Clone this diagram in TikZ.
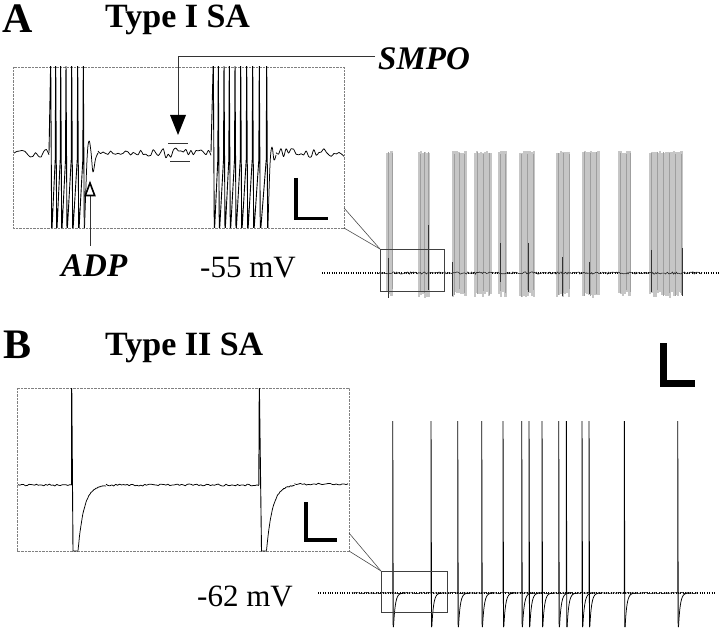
\documentclass[tikz,border=0pt]{standalone}
\usepackage{fontspec}
\setmainfont{Liberation Serif}
\tikzset{
  tracestyle/.style={black, line width=0.75pt, line join=round},
  spk/.style={black, line width=0.9pt, line join=miter},
  insetbox/.style={gray, line width=0.6pt, dash pattern=on 0.7pt off 0.7pt},
  zoombox/.style={black!75, line width=0.8pt},
  zoomline/.style={black!70, line width=0.6pt},
  restline/.style={black, line width=1.1pt, dash pattern=on 1pt off 1.4pt},
  burstline/.style={gray!45, line width=2.2pt},
  burstdark/.style={gray!75, line width=0.7pt},
  darkspk/.style={black!80, line width=0.8pt},
  txt/.style={inner sep=0pt, anchor=base west},
  panel/.style={txt, font=\fontsize{42}{42}\selectfont\bfseries},
  title/.style={txt, font=\fontsize{34}{34}\selectfont\bfseries},
  bilabel/.style={txt, font=\fontsize{33}{33}\selectfont\bfseries\itshape},
  mvlabel/.style={txt, font=\fontsize{31}{31}\selectfont},
  scalebar/.style={black, line cap=butt, line join=miter},
  pointer/.style={black!80, line width=0.8pt},
}
\begin{document}
\begin{tikzpicture}[x=1pt,y=-1pt]
\useasboundingbox (0,0) rectangle (720,628);
\pgfmathsetseed{11}

% ---------------- Panel A ----------------
\node[panel] (lblA) at (2,33) {A};
\node[title] (titleA) at (105,28) {Type I SA};
\node[bilabel] (smpo) at (378,70) {SMPO};
\node[bilabel] (adp) at (61,277) {ADP};
\node[mvlabel] (mvA) at (200,278) {-55 mV};

% inset A
\draw[insetbox] (13,67) rectangle (344,228);
\begin{scope}
\clip (13,67) rectangle (344,228);
\draw[tracestyle] plot[domain=14:49, samples=14, smooth] (\x,{153+5*rand});
\draw[spk] (49,153) -- (50.7,60) -- (51.7,235) -- (55.2,160) -- (55.7,60) -- (56.7,235)
  -- (60.2,160) -- (60.7,60) -- (61.7,235) -- (65.5,160) -- (66,60) -- (67,235)
  -- (71.2,160) -- (71.7,60) -- (72.7,235) -- (77.2,160) -- (77.7,60) -- (78.7,235)
  -- (82.8,160) -- (83.3,60) -- (84.3,235);
\draw[tracestyle] plot[smooth, tension=0.6] coordinates {(84.3,235) (87,160) (89,141) (91,152) (93,172) (95.5,159) (98,153)};
\draw[tracestyle] plot[domain=98:211, samples=46, smooth] (\x,{153+(2.2+3.5*exp(-((\x-168)/30)^2))*rand});
\draw[spk] (211,152) -- (213.3,60) -- (214.3,235) -- (217.8,160) -- (218.3,60) -- (219.3,235)
  -- (223.5,160) -- (224,60) -- (225,235) -- (228.8,160) -- (229.3,60) -- (230.3,235)
  -- (234.5,160) -- (235,60) -- (236,235) -- (240.2,160) -- (240.7,60) -- (241.7,235)
  -- (246.2,160) -- (246.7,60) -- (247.7,235) -- (252.2,160) -- (252.7,60) -- (253.7,235)
  -- (258.8,160) -- (259.3,60) -- (260.3,235) -- (266.2,160) -- (266.7,60) -- (267.7,235);
\draw[tracestyle] plot[smooth, tension=0.6] coordinates {(267.7,235) (270,165) (272,147) (274,160) (276,155)};
\draw[tracestyle] plot[domain=276:344, samples=28, smooth] (\x,{153+4.5*rand});
\end{scope}
% SMPO markers
\draw[black!80, line width=0.7pt] (168,143) -- (188,143);
\draw[black!80, line width=0.7pt] (170,161) -- (190,161);
\coordinate (smpoStart) at (375,56);
\coordinate (smpoTip) at (178,118);
\draw[pointer] (smpoStart) -| (smpoTip);
\fill[black] (170,115) -- (186,115) -- (178,135) -- cycle;
% ADP marker
\coordinate (adpTip) at (90,196);
\coordinate (adpEnd) at (90,246);
\draw[pointer] (adpTip) -- (adpEnd);
\draw[black, line width=1.6pt, fill=white, line join=miter] (90,183) -- (85.3,195.5) -- (94.7,195.5) -- cycle;
% scale bar inset A
\draw[scalebar, line width=3.3pt] (296,178) -- (296,218.3) -- (328,218.3);

% main trace A
\draw[restline] (322,273) -- (720,273);
\foreach \s in {387,389,391.5, 419,421,423,425,427,429, 453,455,457,459,461,463,465.5,
  475,477,479,481,483,485,487,489,490.5, 499,501,503,505.5, 520,522,524,526,528,530,532,534,
  557,559,561,563,565,567,569, 583,585,587,589,591,593,595,597,598.5, 619,621,623,625,627,629.5,
  650,652,654,656,658,660,662,664,666,668,670,672,674,676,678,680,681.5}
  {\draw[burstline] (\s,{152+1.2*rand}) -- (\s,{295+3*rand});}
\foreach \s in {388,392,420,424,428,454,459,464,477,483,489,500,505,521,527,533,558,563,569,584,590,596,620,626,630,651,657,663,669,675,681}
  {\draw[burstdark] (\s,{153+1.5*rand}) -- (\s,{293+4*rand});}
\draw[black!85, line width=0.6pt] plot[domain=378:702, samples=330] (\x,{273+1.1*rand});
\foreach \s/\t/\b in {388/258/298, 428/225/290, 452/262/296, 500/243/282, 528/243/292, 562/257/296, 589/262/294, 651/250/292, 682/248/296}
  {\draw[darkspk] (\s,\t) -- (\s,\b);}
\draw[zoombox] (380,249) rectangle (444,291);
\coordinate (zA) at (380,249);
\coordinate (iA1) at (344,208);
\coordinate (iA2) at (344,228);
\draw[zoomline] (iA1) -- (zA);
\draw[zoomline] (iA2) -- (zA);

% ---------------- Panel B ----------------
\node[panel] (lblB) at (3,358) {B};
\node[title] (titleB) at (105,355) {Type II SA};
\node[mvlabel] (mvB) at (197,606) {-62 mV};

% inset B
\draw[insetbox] (17,388) rectangle (349,551);
\begin{scope}
\clip (17,388) rectangle (349,551);
\draw[tracestyle] plot[domain=18:71.5, samples=30, smooth] (\x,{485+1.0*rand});
\draw[spk] (71.5,485) -- (71.7,380) -- (73,551) -- (78,551);
\draw[tracestyle] plot[domain=0:28, samples=40, smooth] ({78+\x},{485+66*exp(-\x/6)+0.4*rand});
\draw[tracestyle] plot[domain=106:258.8, samples=80, smooth] (\x,{485+1.0*rand});
\draw[spk] (258.8,485) -- (259.3,380) -- (261.5,551) -- (266.5,551);
\draw[tracestyle] plot[domain=0:28, samples=40, smooth] ({266.5+\x},{485+66*exp(-\x/6)+0.4*rand});
\draw[tracestyle] plot[domain=294.5:348, samples=28, smooth] (\x,{484+1.0*rand});
\end{scope}
\draw[scalebar, line width=3.8pt] (306,502) -- (306,540) -- (337,540);

% main trace B
\draw[restline] (318,593) -- (715,593);
\draw[black!85, line width=0.6pt] plot[domain=352:697, samples=300] (\x,{593+0.7*rand});
\foreach \s in {392.7,431,457.7,481.7,503,521.7,529,542,558.7,566.3,582,589,624.3,677.7}
{
  \draw[spk] (\s,593) -- (\s,421) -- (\s+0.5,627);
  \draw[tracestyle] plot[domain=0:12, samples=25, smooth] ({\s+0.8+\x},{593+34*exp(-\x/1.8)});
}
\draw[zoombox] (381,571) rectangle (447,612);
\coordinate (zB) at (381,571);
\coordinate (iB1) at (349,533);
\coordinate (iB2) at (349,551);
\draw[zoomline] (iB1) -- (zB);
\draw[zoomline] (iB2) -- (zB);
% big scale bar B
\draw[scalebar, line width=7pt] (663.5,343) -- (663.5,383.5) -- (695,383.5);
\end{tikzpicture}
\end{document}
